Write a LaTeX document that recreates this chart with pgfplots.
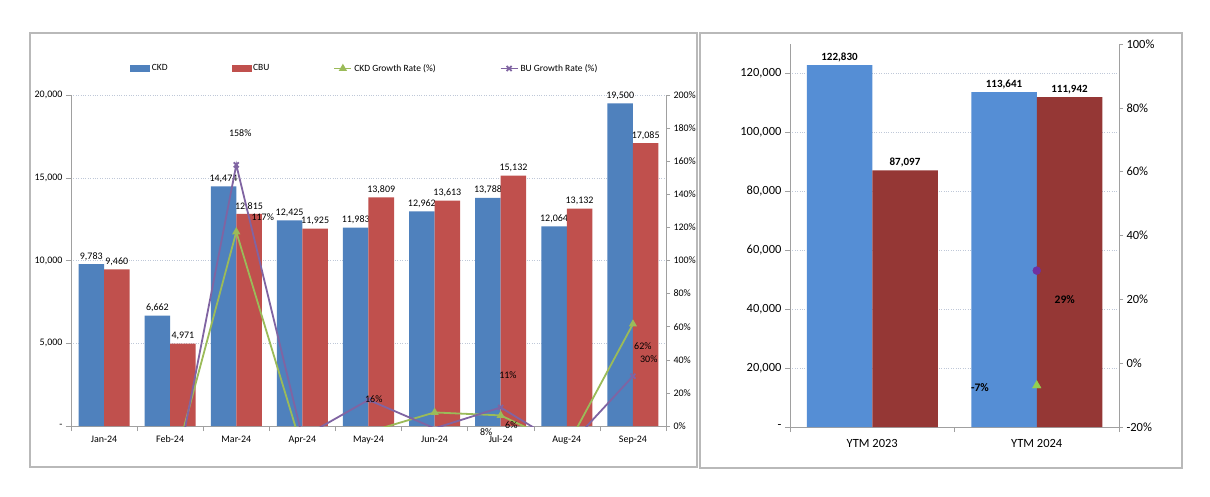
\documentclass[border=0pt]{standalone}
\usepackage{pgfplots}
\pgfplotsset{compat=1.18}
\usepackage{fontspec}
\setmainfont{Carlito}

\definecolor{ckdblue}{HTML}{4F81BD}
\definecolor{cbured}{HTML}{C0504D}
\definecolor{ckdgreen}{HTML}{9BBB59}
\definecolor{bupurple}{HTML}{8064A2}
\definecolor{ytmblue}{HTML}{558ED5}
\definecolor{ytmred}{HTML}{953735}
\definecolor{ytmgreen}{HTML}{92D050}
\definecolor{ytmpurple}{HTML}{7030A0}
\definecolor{axisgray}{HTML}{A0A0A0}
\definecolor{gridgray}{HTML}{BFC8D8}

\pgfplotsset{
  /pgf/number format/assume math mode=true,
  /pgf/number format/fixed,
  /pgf/number format/precision=0,
  /pgf/number format/1000 sep={,},
  chartbase/.style={
    scale only axis,
    anchor=south west,
    axis line style={axisgray},
    tick style={axisgray, thin},
    tick align=outside,
    major tick length=4pt,
    clip mode=individual,
    scaled y ticks=false,
  },
}

\begin{document}
\begin{tikzpicture}
\fill[white] (0pt,0pt) rectangle (1210pt,496pt);
\draw[gray!55, line width=1.2pt] (30pt,29pt) rectangle (697pt,463pt);
\draw[gray!55, line width=1.2pt] (700pt,28pt) rectangle (1182pt,463pt);

% ---- left chart: monthly volumes
\begin{axis}[chartbase,
  at={(71pt,70pt)}, width=595pt, height=331pt,
  xmin=-0.5, xmax=8.5, ymin=0, ymax=20000,
  axis x line*=bottom, axis y line*=left,
  ybar=0pt, bar width=25.5pt,
  xtick={-0.5,0.5,...,8.5}, xticklabels={},
  major tick length=5pt,
  extra x ticks={0,1,...,8},
  extra x tick labels={Jan-24,Feb-24,Mar-24,Apr-24,May-24,Jun-24,Jul-24,Aug-24,Sep-24},
  extra x tick style={major tick length=0pt, tick label style={yshift=-6pt}},
  ytick={0,5000,10000,15000,20000},
  yticklabels={-,{5,000},{10,000},{15,000},{20,000}},
  ymajorgrids, grid style={gridgray, dotted},
  tick label style={font=\fontsize{10}{12}\selectfont},
  nodes near coords,
  nodes near coords style={font=\fontsize{10}{12}\selectfont, black},
]
\addplot[fill=ckdblue, draw=none] coordinates {
  (0,9783)(1,6662)(2,14474)(3,12425)(4,11983)(5,12962)(6,13788)(7,12064)(8,19500)};
\addplot[fill=cbured, draw=none] coordinates {
  (0,9460)(1,4971)(2,12815)(3,11925)(4,13809)(5,13613)(6,15132)(7,13132)(8,17085)};
\end{axis}

\begin{axis}[chartbase,
  at={(71pt,70pt)}, width=595pt, height=331pt,
  xmin=-0.5, xmax=8.5, ymin=0, ymax=200,
  axis x line=none, axis y line*=right,
  ytick={0,20,...,200},
  yticklabels={0\%,20\%,40\%,60\%,80\%,100\%,120\%,140\%,160\%,180\%,200\%},
  tick label style={font=\fontsize{10}{12}\selectfont},
  clip marker paths=true,
  legend columns=4,
  legend cell align=left,
  legend style={draw=none, fill=none, at={(0.494,1.08)}, anchor=center,
    font=\fontsize{9.5}{11}\selectfont,
    /tikz/every even column/.append style={column sep=62pt}},
]
\addlegendimage{legend image code/.code={\fill[ckdblue] (0pt,-3pt) rectangle (19pt,3pt);}}
\addlegendentry{CKD}
\addlegendimage{legend image code/.code={\fill[cbured] (0pt,-3pt) rectangle (19pt,3pt);}}
\addlegendentry{CBU}
\addplot[ckdgreen, line width=1.8pt, mark=triangle*, mark size=3pt] coordinates {
  (1,-31.9)(2,117.3)(3,-14.2)(4,-3.6)(5,8.2)(6,6.4)(7,-12.5)(8,61.6)};
\addlegendentry{CKD Growth Rate (\%)}
\addplot[bupurple, line width=1.8pt, mark=x, mark size=3.5pt] coordinates {
  (1,-47.5)(2,157.8)(3,-6.9)(4,15.8)(5,-1.4)(6,11.2)(7,-13.2)(8,30.1)};
\addlegendentry{BU Growth Rate (\%)}
\begin{scope}[font=\fontsize{10}{12}\selectfont]
\node at (axis cs:2.06,177) {158\%};
\node at (axis cs:2.40,126) {117\%};
\node at (axis cs:4.08,16) {16\%};
\node at (axis cs:5.78,-3.5) {8\%};
\node at (axis cs:6.16,0.6) {6\%};
\node at (axis cs:6.11,31) {11\%};
\node at (axis cs:8.15,48) {62\%};
\node at (axis cs:8.24,40.5) {30\%};
\end{scope}
\end{axis}

% ---- right chart: year to month totals
\begin{axis}[chartbase,
  at={(790pt,69pt)}, width=329pt, height=383pt,
  xmin=-0.5, xmax=1.5, ymin=0, ymax=130000,
  axis x line*=bottom, axis y line*=left,
  ybar=0pt, bar width=65.5pt,
  xtick={-0.5,0.5,1.5}, xticklabels={},
  major tick length=5pt,
  extra x ticks={0,1},
  extra x tick labels={YTM 2023,YTM 2024},
  extra x tick style={major tick length=0pt, tick label style={yshift=-9pt}},
  ytick={0,20000,...,120000},
  yticklabels={-,{20,000},{40,000},{60,000},{80,000},{100,000},{120,000}},
  ymajorgrids, grid style={gridgray, dotted},
  tick label style={font=\fontsize{12.5}{14}\selectfont},
  nodes near coords,
  nodes near coords style={font=\bfseries\fontsize{11}{13}\selectfont, black},
]
\addplot[fill=ytmblue, draw=none] coordinates {(0,122830)(1,113641)};
\addplot[fill=ytmred, draw=none] coordinates {(0,87097)(1,111942)};
\end{axis}

\begin{axis}[chartbase,
  at={(790pt,69pt)}, width=329pt, height=383pt,
  xmin=-0.5, xmax=1.5, ymin=-20, ymax=100,
  axis x line=none, axis y line*=right,
  ytick={-20,0,...,100},
  yticklabels={-20\%,0\%,20\%,40\%,60\%,80\%,100\%},
  tick label style={font=\fontsize{12.5}{14}\selectfont},
]
\addplot[only marks, mark=*, color=ytmpurple, mark size=4pt] coordinates {(1,29)};
\addplot[only marks, mark=triangle*, color=ytmgreen, mark size=5pt] coordinates {(1,-7)};
\begin{scope}[font=\bfseries\fontsize{11.5}{13}\selectfont]
\node at (axis cs:1.17,20) {29\%};
\node at (axis cs:0.655,-7.5) {-7\%};
\end{scope}
\end{axis}
\end{tikzpicture}
\end{document}
